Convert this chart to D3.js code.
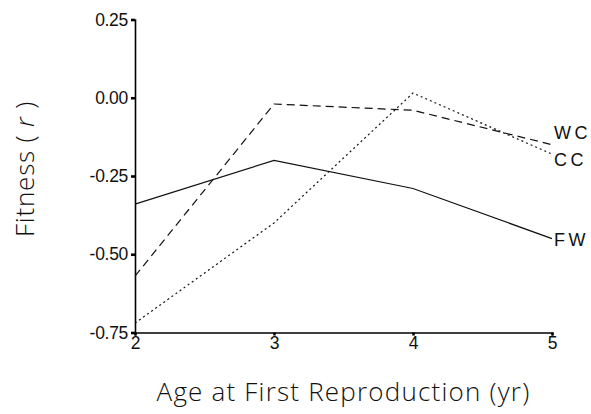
<!DOCTYPE html>
<html><head><meta charset="utf-8">
<script src="https://cdn.jsdelivr.net/npm/d3@7"></script>
<style>body{margin:0;background:#fff}</style>
</head><body>
<svg id="c" width="591" height="414"></svg>
<script>
const ages = [2, 3, 4, 5];
const yTicks = [0.25, 0.00, -0.25, -0.50, -0.75];
const seriesNames = ["FW", "WC", "CC"];
const fwValues = [-0.34, -0.20, -0.29, -0.45];
const wcValues = [-0.57, -0.02, -0.04, -0.15];
const ccValues = [-0.72, -0.40, 0.015, -0.18];

const svg = d3.select("#c");
const x = d3.scaleLinear().domain([2, 5]).range([135, 552]);
const y = d3.scaleLinear().domain([-0.75, 0.25]).range([332.5, 19.5]);
const font = "'Liberation Sans', Arial, sans-serif";

// axes
const yAxis = svg.append("g").attr("transform", "translate(135,0)")
  .call(d3.axisLeft(y).tickValues(yTicks).tickFormat(d3.format(".2f")).tickSize(4).tickPadding(3));
const xAxis = svg.append("g").attr("transform", "translate(0,332.5)")
  .call(d3.axisBottom(x).tickValues(ages).tickFormat(d3.format("d")).tickSize(3).tickPadding(1));
[yAxis, xAxis].forEach(a => {
  a.attr("font-size", null);
  a.select(".domain").attr("stroke", "#000").attr("stroke-width", 1.6);
  a.selectAll(".tick line").attr("stroke", "#000").attr("stroke-width", 2.6);
  a.selectAll("text").attr("fill", "#111").attr("font-family", font).attr("font-size", 17.5).style("letter-spacing", "-0.3px");
});
yAxis.selectAll("text").text(d => d < 0 ? "-" + d3.format(".2f")(-d) : d3.format(".2f")(d));

const series = [
  {name: "FW", values: fwValues, dash: null, ly: 240},
  {name: "WC", values: wcValues, dash: "8,5", ly: 133},
  {name: "CC", values: ccValues, dash: "2,3", ly: 160}
];
const line = d3.line().x((d, i) => x(ages[i])).y(d => y(d));
series.forEach(s => {
  svg.append("path").datum(s.values).attr("d", line)
    .attr("fill", "none").attr("stroke", "#111").attr("stroke-width", 1.2)
    .attr("stroke-dasharray", s.dash);
  svg.append("text").attr("x", 554).attr("y", s.ly).attr("dy", "0.36em")
    .attr("font-family", font).attr("font-size", 18).style("letter-spacing", "3.5px")
    .attr("fill", "#111").text(s.name);
});

// axis titles
svg.append("text").attr("transform", "translate(34,169) rotate(-90)")
  .attr("text-anchor", "middle").style("font-family", "'Open Sans', sans-serif")
  .style("font-weight", 300).style("font-size", "26px").style("letter-spacing", "0.8px").attr("fill", "#111")
  .html("Fitness ( <tspan font-style='italic'>r</tspan> )");
svg.append("text").attr("x", 343.5).attr("y", 401)
  .attr("text-anchor", "middle").style("font-family", "'Open Sans', sans-serif")
  .style("font-weight", 300).style("font-size", "26px").style("letter-spacing", "1.2px").attr("fill", "#111")
  .text("Age at First Reproduction (yr)");
</script>
</body></html>
